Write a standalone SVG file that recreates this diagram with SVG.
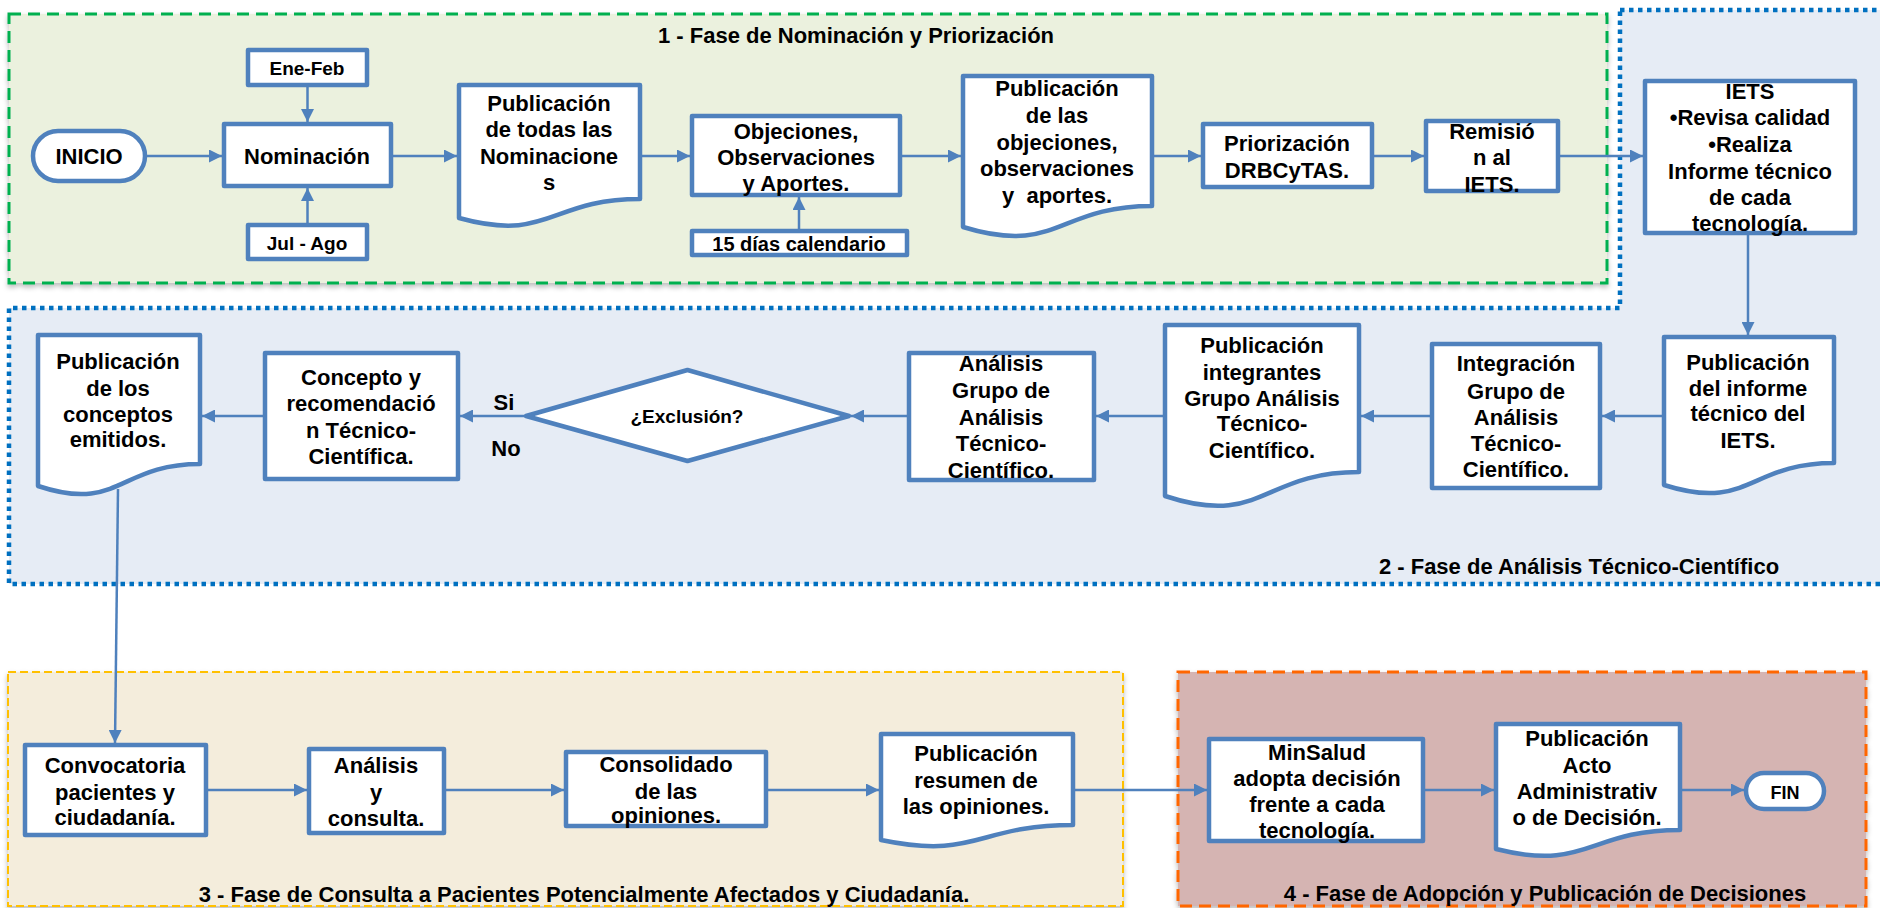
<svg xmlns="http://www.w3.org/2000/svg" width="1880" height="908" viewBox="0 0 1880 908">
<defs>
<style>
.t{font-family:"Liberation Sans",Arial,sans-serif;font-weight:bold;font-size:22px;fill:#000;text-anchor:middle;white-space:pre}
.s{font-size:19px}
.n{fill:#fff;stroke:#4f81bd;stroke-width:4.5;stroke-linejoin:round}
.c{fill:none;stroke:#4f81bd;stroke-width:2.5;marker-end:url(#ah)}
</style>
<marker id="ah" viewBox="0 0 12 12" refX="12" refY="6" markerWidth="13" markerHeight="13" markerUnits="userSpaceOnUse" orient="auto">
<path d="M0,0 L12,6 L0,12 z" fill="#4f81bd"/>
</marker>
<filter id="sh" x="-5%" y="-5%" width="110%" height="115%">
<feDropShadow dx="0" dy="3" stdDeviation="2.5" flood-color="#000" flood-opacity="0.25"/>
</filter>
</defs>

<g id="phases">
<rect x="9" y="14" width="1598" height="269" fill="#ebf1de" stroke="#00b050" stroke-width="3" stroke-dasharray="12 7" filter="url(#sh)"/>
<path d="M1620,10 H1886 V584 H9 V308 H1620 Z" fill="#e6ecf5" stroke="#0070c0" stroke-width="4.5" stroke-dasharray="4.5 4.5"/>
<rect x="8" y="672" width="1115" height="234" fill="#f4eddc" stroke="#ffc000" stroke-width="2" stroke-dasharray="8 4" filter="url(#sh)"/>
<rect x="1178" y="672" width="688" height="234" fill="#d5b4b2" stroke="#ff6600" stroke-width="3" stroke-dasharray="12 7" filter="url(#sh)"/>
<text class="t" x="856" y="43">1 - Fase de Nominación y Priorización</text>
<text class="t" x="1579" y="574">2 - Fase de Análisis Técnico-Científico</text>
<text class="t" x="584" y="902">3 - Fase de Consulta a Pacientes Potencialmente Afectados y Ciudadanía.</text>
<text class="t" x="1545" y="901">4 - Fase de Adopción y Publicación de Decisiones</text>
</g>

<g id="connectors">
<line class="c" x1="147" y1="156" x2="222" y2="156"/>
<line class="c" x1="307.5" y1="87" x2="307.5" y2="122"/>
<line class="c" x1="307.5" y1="223" x2="307.5" y2="188"/>
<line class="c" x1="393" y1="156" x2="457" y2="156"/>
<line class="c" x1="642" y1="156" x2="690" y2="156"/>
<line class="c" x1="799" y1="229" x2="799" y2="197"/>
<line class="c" x1="902" y1="156" x2="961" y2="156"/>
<line class="c" x1="1154" y1="156" x2="1201" y2="156"/>
<line class="c" x1="1374" y1="156" x2="1424" y2="156"/>
<line class="c" x1="1560" y1="156" x2="1643" y2="156"/>
<line class="c" x1="1748" y1="235" x2="1748" y2="335"/>
<line class="c" x1="1662" y1="416" x2="1602" y2="416"/>
<line class="c" x1="1430" y1="416" x2="1361" y2="416"/>
<line class="c" x1="1163" y1="416" x2="1096" y2="416"/>
<line class="c" x1="907" y1="416" x2="851" y2="416"/>
<line class="c" x1="524" y1="416" x2="460" y2="416"/>
<line class="c" x1="263" y1="416" x2="202" y2="416"/>
<line class="c" x1="118" y1="489" x2="115" y2="743"/>
<line class="c" x1="208" y1="790" x2="307" y2="790"/>
<line class="c" x1="446" y1="790" x2="564" y2="790"/>
<line class="c" x1="768" y1="790" x2="879" y2="790"/>
<line class="c" x1="1075" y1="790" x2="1207" y2="790"/>
<line class="c" x1="1425" y1="790" x2="1494" y2="790"/>
<line class="c" x1="1682" y1="790" x2="1744" y2="790"/>
<text class="t" x="504" y="410">Si</text>
<text class="t" x="506" y="456">No</text>
</g>

<g id="inicio">
<rect class="n" x="33" y="131" width="112" height="50" rx="25"/>
<text class="t" x="89" y="164">INICIO</text>
</g>
<g id="ene-feb">
<rect class="n" x="248" y="50" width="119" height="35"/>
<text class="t s" x="307" y="75">Ene-Feb</text>
</g>
<g id="nominacion">
<rect class="n" x="224" y="124" width="167" height="62"/>
<text class="t" x="307" y="164">Nominación</text>
</g>
<g id="jul-ago">
<rect class="n" x="248" y="225" width="119" height="34"/>
<text class="t s" x="307" y="250">Jul - Ago</text>
</g>
<g id="pub-todas">
<path class="n" d="M459,85 H640 V199 C549.5,199 549.5,243 459,218 Z"/>
<text class="t" x="549" y="111">Publicación</text>
<text class="t" x="549" y="137">de todas las</text>
<text class="t" x="549" y="164">Nominacione</text>
<text class="t" x="549" y="190">s</text>
</g>
<g id="objeciones">
<rect class="n" x="692" y="116" width="208" height="79"/>
<text class="t" x="796" y="139">Objeciones,</text>
<text class="t" x="796" y="165">Observaciones</text>
<text class="t" x="796" y="191">y Aportes.</text>
</g>
<g id="dias15">
<rect class="n" x="692" y="231" width="215" height="24"/>
<text class="t" x="799" y="251" style="font-size:20px">15 días calendario</text>
</g>
<g id="pub-objeciones">
<path class="n" d="M963,76 H1152 V206 C1057.5,206 1057.5,256 963,227 Z"/>
<text class="t" x="1057" y="96">Publicación</text>
<text class="t" x="1057" y="123">de las</text>
<text class="t" x="1057" y="150">objeciones,</text>
<text class="t" x="1057" y="176">observaciones</text>
<text class="t" x="1057" y="203">y  aportes.</text>
</g>
<g id="priorizacion">
<rect class="n" x="1203" y="124" width="169" height="63"/>
<text class="t" x="1287" y="151">Priorización</text>
<text class="t" x="1287" y="178">DRBCyTAS.</text>
</g>
<g id="remision">
<rect class="n" x="1426" y="121" width="132" height="70"/>
<text class="t" x="1492" y="139">Remisió</text>
<text class="t" x="1492" y="165">n al</text>
<text class="t" x="1492" y="192">IETS.</text>
</g>
<g id="iets">
<rect class="n" x="1645" y="81" width="210" height="152"/>
<text class="t" x="1750" y="99">IETS</text>
<text class="t" x="1750" y="125">•Revisa calidad</text>
<text class="t" x="1750" y="152">•Realiza</text>
<text class="t" x="1750" y="179">Informe técnico</text>
<text class="t" x="1750" y="205">de cada</text>
<text class="t" x="1750" y="231">tecnología.</text>
</g>
<g id="pub-informe">
<path class="n" d="M1664,337 H1834 V463 C1749,463 1749,512 1664,485 Z"/>
<text class="t" x="1748" y="370">Publicación</text>
<text class="t" x="1748" y="396">del informe</text>
<text class="t" x="1748" y="421">técnico del</text>
<text class="t" x="1748" y="448">IETS.</text>
</g>
<g id="integracion">
<rect class="n" x="1432" y="344" width="168" height="144"/>
<text class="t" x="1516" y="371">Integración</text>
<text class="t" x="1516" y="399">Grupo de</text>
<text class="t" x="1516" y="425">Análisis</text>
<text class="t" x="1516" y="451">Técnico-</text>
<text class="t" x="1516" y="477">Científico.</text>
</g>
<g id="pub-integrantes">
<path class="n" d="M1165,325 H1359 V472 C1262,472 1262,528 1165,496 Z"/>
<text class="t" x="1262" y="353">Publicación</text>
<text class="t" x="1262" y="380">integrantes</text>
<text class="t" x="1262" y="406">Grupo Análisis</text>
<text class="t" x="1262" y="431">Técnico-</text>
<text class="t" x="1262" y="458">Científico.</text>
</g>
<g id="analisis-grupo">
<rect class="n" x="909" y="353" width="185" height="127"/>
<text class="t" x="1001" y="371">Análisis</text>
<text class="t" x="1001" y="398">Grupo de</text>
<text class="t" x="1001" y="425">Análisis</text>
<text class="t" x="1001" y="451">Técnico-</text>
<text class="t" x="1001" y="478">Científico.</text>
</g>
<g id="exclusion">
<path class="n" d="M526,416 L687.5,370 L849,416 L687.5,461 Z"/>
<text class="t s" x="687" y="423">¿Exclusión?</text>
</g>
<g id="concepto">
<rect class="n" x="265" y="353" width="193" height="126"/>
<text class="t" x="361" y="385">Concepto y</text>
<text class="t" x="361" y="411">recomendació</text>
<text class="t" x="361" y="438">n Técnico-</text>
<text class="t" x="361" y="464">Científica.</text>
</g>
<g id="pub-conceptos">
<path class="n" d="M38,335 H200 V464 C119,464 119,513 38,486 Z"/>
<text class="t" x="118" y="369">Publicación</text>
<text class="t" x="118" y="396">de los</text>
<text class="t" x="118" y="422">conceptos</text>
<text class="t" x="118" y="447">emitidos.</text>
</g>
<g id="convocatoria">
<rect class="n" x="25" y="745" width="181" height="90"/>
<text class="t" x="115" y="773">Convocatoria</text>
<text class="t" x="115" y="800">pacientes y</text>
<text class="t" x="115" y="825">ciudadanía.</text>
</g>
<g id="analisis-consulta">
<rect class="n" x="309" y="749" width="135" height="84"/>
<text class="t" x="376" y="773">Análisis</text>
<text class="t" x="376" y="800">y</text>
<text class="t" x="376" y="826">consulta.</text>
</g>
<g id="consolidado">
<rect class="n" x="566" y="752" width="200" height="74"/>
<text class="t" x="666" y="772">Consolidado</text>
<text class="t" x="666" y="799">de las</text>
<text class="t" x="666" y="823">opiniones.</text>
</g>
<g id="pub-resumen">
<path class="n" d="M881,734 H1073 V825 C977,825 977,860 881,840 Z"/>
<text class="t" x="976" y="761">Publicación</text>
<text class="t" x="976" y="788">resumen de</text>
<text class="t" x="976" y="814">las opiniones.</text>
</g>
<g id="minsalud">
<rect class="n" x="1209" y="739" width="214" height="102"/>
<text class="t" x="1317" y="760">MinSalud</text>
<text class="t" x="1317" y="786">adopta decisión</text>
<text class="t" x="1317" y="812">frente a cada</text>
<text class="t" x="1317" y="838">tecnología.</text>
</g>
<g id="pub-acto">
<path class="n" d="M1496,724 H1680 V830 C1588,830 1588,872 1496,849 Z"/>
<text class="t" x="1587" y="746">Publicación</text>
<text class="t" x="1587" y="773">Acto</text>
<text class="t" x="1587" y="799">Administrativ</text>
<text class="t" x="1587" y="825">o de Decisión.</text>
</g>
<g id="fin">
<rect class="n" x="1746" y="773" width="78" height="36" rx="18"/>
<text class="t" x="1785" y="799" style="font-size:18px">FIN</text>
</g>
</svg>
